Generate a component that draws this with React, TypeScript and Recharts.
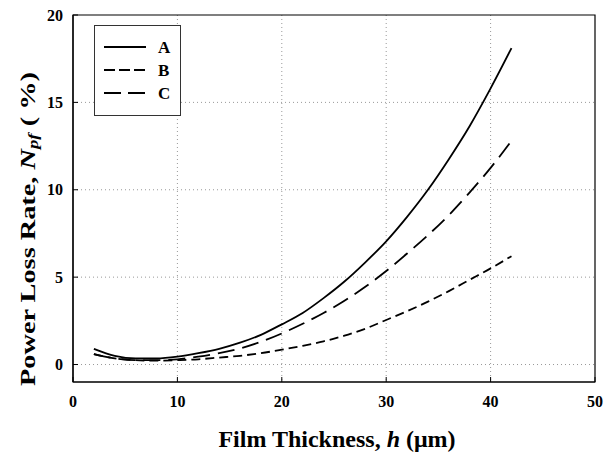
import React from 'react';
import { LineChart, Line, XAxis, YAxis, CartesianGrid, Legend, ReferenceArea } from 'recharts';

const thickness = [2, 4, 6, 8, 10, 12, 14, 16, 18, 20, 22, 24, 26, 28, 30, 32, 34, 36, 38, 40, 42];
const seriesA = [0.9, 0.5, 0.35, 0.35, 0.45, 0.65, 0.9, 1.25, 1.7, 2.3, 2.95, 3.8, 4.75, 5.85, 7.05, 8.45, 10.0, 11.75, 13.65, 15.8, 18.1];
const seriesB = [0.6, 0.35, 0.25, 0.22, 0.25, 0.3, 0.4, 0.5, 0.65, 0.85, 1.07, 1.33, 1.65, 2.05, 2.55, 3.05, 3.6, 4.2, 4.85, 5.5, 6.2];
const seriesC = [0.6, 0.35, 0.25, 0.25, 0.3, 0.45, 0.65, 0.92, 1.3, 1.78, 2.33, 2.95, 3.65, 4.45, 5.35, 6.35, 7.4, 8.55, 9.85, 11.25, 12.8];
const xTicks = [0, 10, 20, 30, 40, 50];
const yTicks = [0, 5, 10, 15, 20];

const data = thickness.map((h, i) => ({ h, A: seriesA[i], B: seriesB[i], C: seriesC[i] }));

const FONT = '"Liberation Serif", "Times New Roman", serif';

const dashes: Record<string, string | undefined> = {
  A: undefined,
  B: '9 5',
  C: '17 8',
};
const legendDashes: Record<string, string | undefined> = {
  A: undefined,
  B: '11 4',
  C: '17 7',
};

const LegendBox = () => (
  <svg width={87} height={91} style={{ display: 'block' }}>
    <rect x={0.5} y={0.5} width={86} height={90} fill="#fff" stroke="#333" strokeWidth={1} />
    {['A', 'B', 'C'].map((k, i) => {
      const y = 22 + i * 23;
      return (
        <g key={k}>
          <line x1={10} x2={52} y1={y} y2={y} stroke="#000" strokeWidth={2} strokeDasharray={legendDashes[k]} />
          <text x={64} y={y + 6} fontFamily={FONT} fontWeight="bold" fontSize={17} fill="#000">{k}</text>
        </g>
      );
    })}
  </svg>
);

// the original y title is stretched along its length, so fit it to the measured span
const YTitle = () => (
  <text
    x={28}
    y={229}
    transform="rotate(-90 28 229)"
    textAnchor="middle"
    dominantBaseline="central"
    fontFamily={FONT}
    fontWeight="bold"
    fontSize={21}
    fill="#000"
    textLength={314}
    lengthAdjust="spacingAndGlyphs"
  >
    Power Loss Rate, <tspan fontStyle="italic">N</tspan>
    <tspan fontStyle="italic" fontSize={14} dy={5}>pf</tspan>
    <tspan dy={-5}> ( %)</tspan>
  </text>
);

const XTitle = () => (
  <text x={337} y={447} textAnchor="middle" fontFamily={FONT} fontWeight="bold" fontSize={24} fill="#000">
    Film Thickness, <tspan fontStyle="italic">h</tspan> (μm)
  </text>
);

export default function App() {
  return (
    <div style={{ position: 'absolute', left: 0, top: 0, background: '#fff' }}>
      <LineChart width={614} height={452} data={data} margin={{ top: 15, right: 19, left: 0, bottom: 0 }}>
        <CartesianGrid stroke="#999" strokeDasharray="1 3" horizontalValues={[0, 5, 10, 15]} verticalValues={[10, 20, 30, 40]} />
        <XAxis
          dataKey="h"
          type="number"
          domain={[0, 50]}
          ticks={xTicks}
          height={70}
          tickSize={-5}
          tickMargin={19}
          axisLine={{ stroke: '#000', strokeWidth: 1.2 }}
          tickLine={{ stroke: '#000' }}
          tick={{ fontFamily: FONT, fontWeight: 'bold', fontSize: 16, fill: '#000' }}
          label={<XTitle />}
        />
        <YAxis
          type="number"
          domain={[-1, 20]}
          ticks={yTicks}
          width={73}
          tickSize={-5}
          tickMargin={15}
          axisLine={{ stroke: '#000', strokeWidth: 1.2 }}
          tickLine={{ stroke: '#000' }}
          tick={{ fontFamily: FONT, fontWeight: 'bold', fontSize: 16, fill: '#000' }}
          label={<YTitle />}
        />
        <ReferenceArea x1={0} x2={50} y1={-1} y2={20} fill="none" stroke="#000" strokeWidth={1.2} />
        <Legend
          layout="horizontal"
          align="center"
          verticalAlign="middle"
          wrapperStyle={{ position: 'absolute', left: 94, top: 25, width: 87, height: 91 }}
          content={() => <LegendBox />}
        />
        <Line type="monotone" dataKey="A" stroke="#000" strokeWidth={1.8} dot={false} isAnimationActive={false} />
        <Line type="monotone" dataKey="B" stroke="#000" strokeWidth={1.8} strokeDasharray={dashes.B} dot={false} isAnimationActive={false} />
        <Line type="monotone" dataKey="C" stroke="#000" strokeWidth={1.8} strokeDasharray={dashes.C} dot={false} isAnimationActive={false} />
      </LineChart>
    </div>
  );
}
